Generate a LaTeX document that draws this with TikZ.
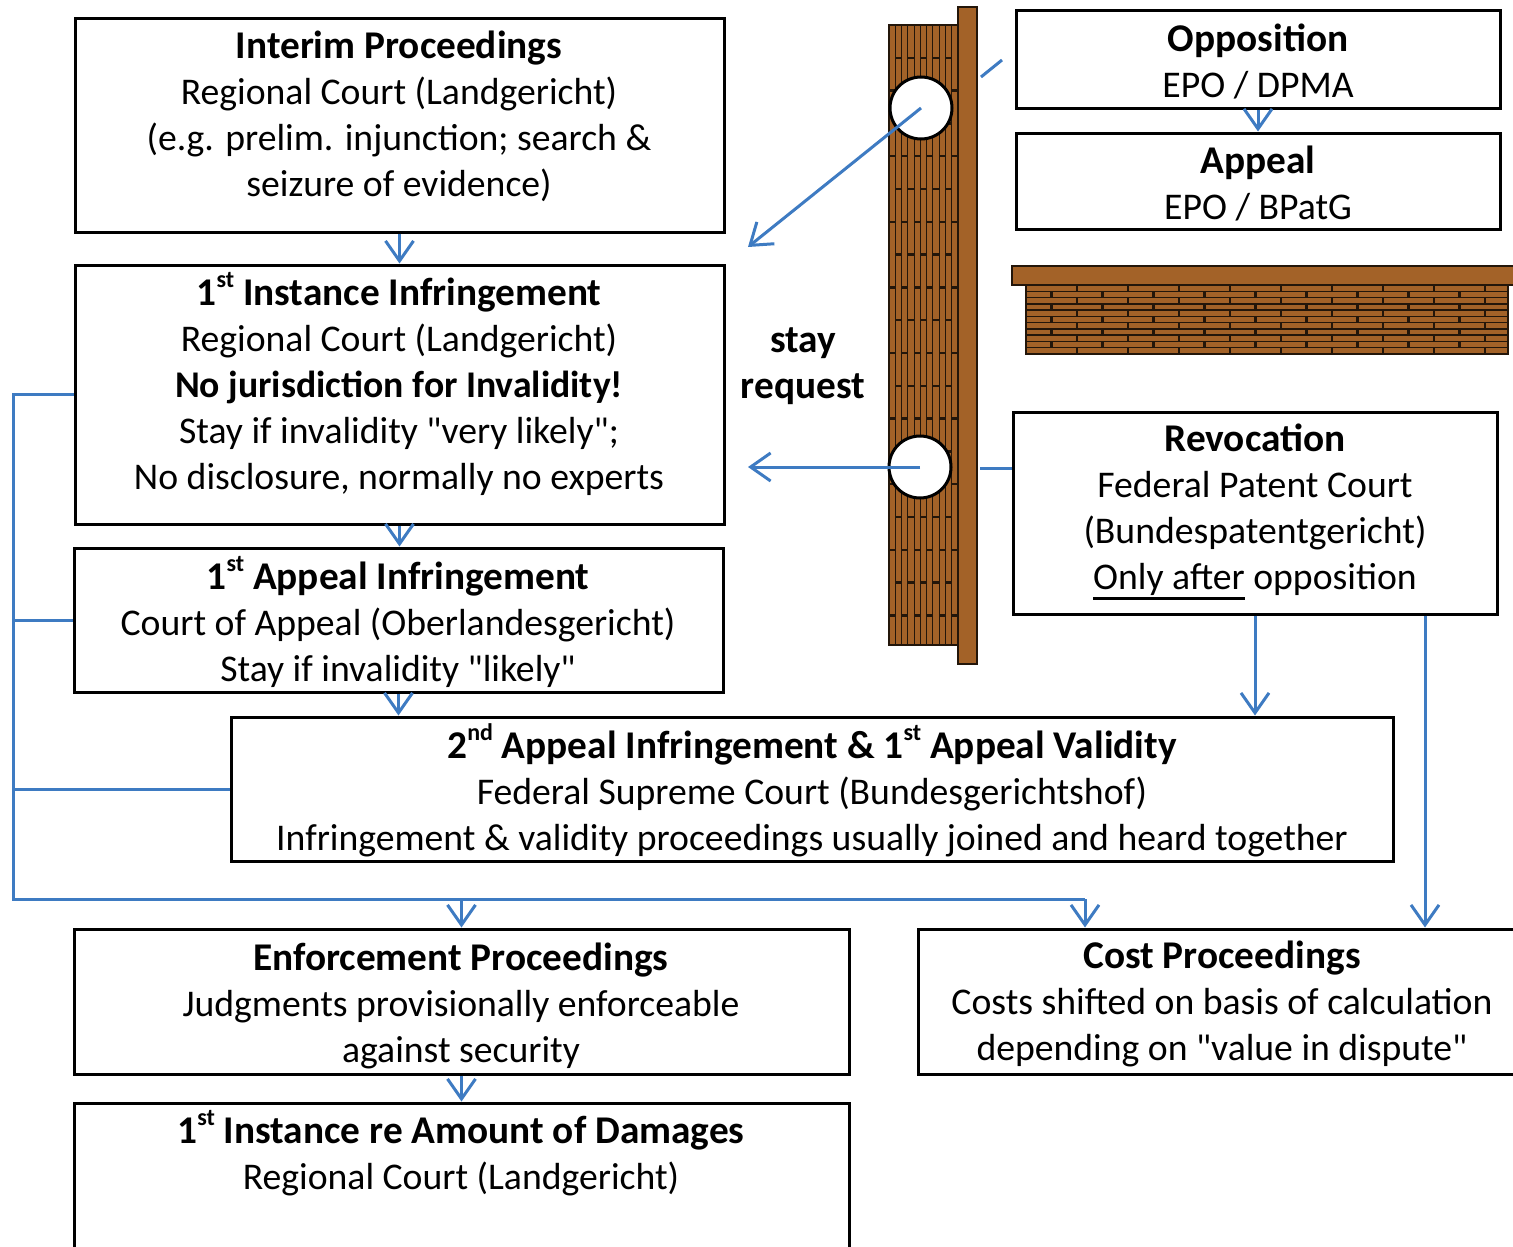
\documentclass[tikz,border=0pt]{standalone}
\usepackage{fontspec}
\setmainfont{Carlito}
\usetikzlibrary{arrows.meta}
\definecolor{flowblue}{RGB}{62,123,194}
\definecolor{brick}{RGB}{163,98,40}
\definecolor{mortar}{RGB}{35,22,10}
% box headings, raised ordinals, straight quotes and a heavy underline
\newcommand{\boxtitle}[1]{{\fontsize{39.3}{46}\selectfont\bfseries #1}}
\newcommand{\sps}[1]{\raisebox{18pt}{\fontsize{24}{24}\selectfont #1}}
\newcommand{\dq}{\textquotedbl}
\newlength{\ulwidth}
\newcommand{\heavyul}[1]{\settowidth{\ulwidth}{#1}\rlap{\rule[-10pt]{\ulwidth}{2.8pt}}#1}

\begin{document}
\begin{tikzpicture}[x=1pt,y=-1pt,
  box/.style={draw=black, line width=3pt, fill=white, rectangle, inner sep=0pt},
  txt/.style={align=center, inner sep=0pt, font=\fontsize{37.7}{46}\selectfont},
  flow/.style={draw=flowblue, line width=3pt},
  arr/.style={flow, -{Straight Barb[length=20pt,width=28pt]}},
  hole/.style={circle, draw=black, line width=3pt, fill=white, minimum size=62pt, inner sep=0pt},
  joint/.style={draw=mortar, line width=2.4pt},
]
\useasboundingbox (0,0) rectangle (1513,1247);

% ---------- boxes ----------
\node[box, minimum width=649pt, minimum height=213pt] (interim) at (399.5,125.5) {};
\node[box, minimum width=649pt, minimum height=259pt] (inst1) at (399.5,394.5) {};
\node[box, minimum width=649pt, minimum height=144pt] (app1) at (398.5,620) {};
\node[box, minimum width=1162pt, minimum height=144pt] (app2) at (812,789) {};
\node[box, minimum width=775pt, minimum height=145pt] (enf) at (461.5,1001.5) {};
\node[box, minimum width=775pt, minimum height=147pt] (dam) at (461.5,1176.5) {};
\node[box, minimum width=608pt, minimum height=145pt] (cost) at (1222,1001.5) {};
\node[box, minimum width=484pt, minimum height=97pt] (opp) at (1258,59.5) {};
\node[box, minimum width=484pt, minimum height=96pt] (appl) at (1258,181) {};
\node[box, minimum width=484pt, minimum height=202pt] (rev) at (1255,513) {};

% ---------- texts ----------
\node[txt] (interimT) at (399,116) {\boxtitle{Interim Proceedings}\\Regional Court (Landgericht)\\(e.g. prelim. injunction; search \&\\seizure of evidence)};
\node[txt] (inst1T) at (399,384) {\boxtitle{1\sps{st} Instance Infringement}\\Regional Court (Landgericht)\\\textbf{No jurisdiction for Invalidity!}\\Stay if invalidity \dq very likely\dq;\\No disclosure, normally no experts};
\node[txt] (app1T) at (398,622) {\boxtitle{1\sps{st} Appeal Infringement}\\Court of Appeal (Oberlandesgericht)\\Stay if invalidity \dq likely\dq};
\node[txt] (app2T) at (812,790) {\boxtitle{2\sps{nd} Appeal Infringement \& 1\sps{st} Appeal Validity}\\Federal Supreme Court (Bundesgerichtshof)\\Infringement \& validity proceedings usually joined and heard together};
\node[txt] (enfT) at (461,1005.5) {\boxtitle{Enforcement Proceedings}\\Judgments provisionally enforceable\\against security};
\node[txt] (damT) at (461,1153) {\boxtitle{1\sps{st} Instance re Amount of Damages}\\Regional Court (Landgericht)};
\node[txt] (costT) at (1222,1004) {\boxtitle{Cost Proceedings}\\Costs shifted on basis of calculation\\depending on \dq value in dispute\dq};
\node[txt] (oppT) at (1258,61) {\boxtitle{Opposition}\\EPO / DPMA};
\node[txt] (applT) at (1258,184) {\boxtitle{Appeal}\\EPO / BPatG};
\node[txt] (revT) at (1255,512) {\boxtitle{Revocation}\\Federal Patent Court\\(Bundespatentgericht)\\\heavyul{Only after} opposition};
\node[txt] (stay) at (803,366) {\boxtitle{stay}\\\boxtitle{request}};

% ---------- vertical wall ----------
\fill[brick] (889,25) rectangle (958,645);
\foreach \c in {1,...,10}
  \draw[mortar, line width=1pt] ({889+6.27*\c},25) -- ({889+6.27*\c},645);
\foreach \c in {0,...,10} {
  \pgfmathsetmacro{\off}{mod(\c,2)*32.8}
  \foreach \k in {0,...,9} {
    \pgfmathsetmacro{\yy}{25+\off+65.6*\k}
    \ifdim \yy pt<642pt
      \draw[joint] ({889+6.27*\c},\yy) -- ({889+6.27*(\c+1)},\yy);
    \fi
  }
}
\draw[mortar, line width=1.5pt] (889,25) rectangle (958,645);
\filldraw[fill=brick, draw=mortar, line width=1.5pt] (958,7) rectangle (977,664);

% ---------- horizontal wall ----------
\fill[brick] (1026,285) rectangle (1508,354);
\foreach \r in {1,...,10}
  \draw[mortar, line width=1.5pt] (1026,{285+6.27*\r}) -- (1508,{285+6.27*\r});
\foreach \r in {0,...,10} {
  \pgfmathsetmacro{\off}{mod(\r,2)*25.5}
  \foreach \k in {0,...,9} {
    \pgfmathsetmacro{\xx}{1026+\off+51*\k}
    \ifdim \xx pt<1506pt
      \draw[joint] (\xx,{285+6.27*\r}) -- (\xx,{285+6.27*(\r+1)});
    \fi
  }
}
\draw[mortar, line width=1.5pt] (1026,285) rectangle (1508,354);
\filldraw[fill=brick, draw=mortar, line width=1.5pt] (1012,266) rectangle (1525,285);

% ---------- holes in the wall ----------
\node[hole] (c1) at (921,108) {};
\node[hole] (c2) at (920,467) {};

% ---------- connectors ----------
\coordinate (tgt1) at (748,247);
\coordinate (tgt2) at (748,467);
\coordinate (s1a) at (981,77);
\coordinate (s1b) at (1002,60);
\coordinate (s2a) at (980,468);
\coordinate (busL) at (13,899);
\coordinate (busR) at (1085,899);

\draw[arr] (c1.center) -- (tgt1);
\draw[flow] (s1a) -- (s1b);
\draw[arr] (c2.center) -- (tgt2);
\draw[flow] (s2a) -- (s2a -| rev.west);

\draw[arr] (interim.south) -- (inst1.north);
\draw[arr] (inst1.south) -- (inst1.south |- app1.north);
\draw[arr] (app1.south) -- (app1.south |- app2.north);
\draw[arr] (opp.south) -- (appl.north);
\draw[arr] (rev.south) -- (rev.south |- app2.north);
\draw[arr] ([xshift=170pt]rev.south) -- ([xshift=170pt]rev.south |- cost.north);
\draw[arr] (enf.south) -- (dam.north);

\draw[flow] (inst1.west) -| (busL) -- (busR);
\draw[flow] (app1.west) -- (app1.west -| busL);
\draw[flow] (app2.west) -- (app2.west -| busL);
\draw[arr] (busR) -- (busR |- cost.north);
\draw[arr] (enf.north |- busL) -- (enf.north);
\end{tikzpicture}
\end{document}
